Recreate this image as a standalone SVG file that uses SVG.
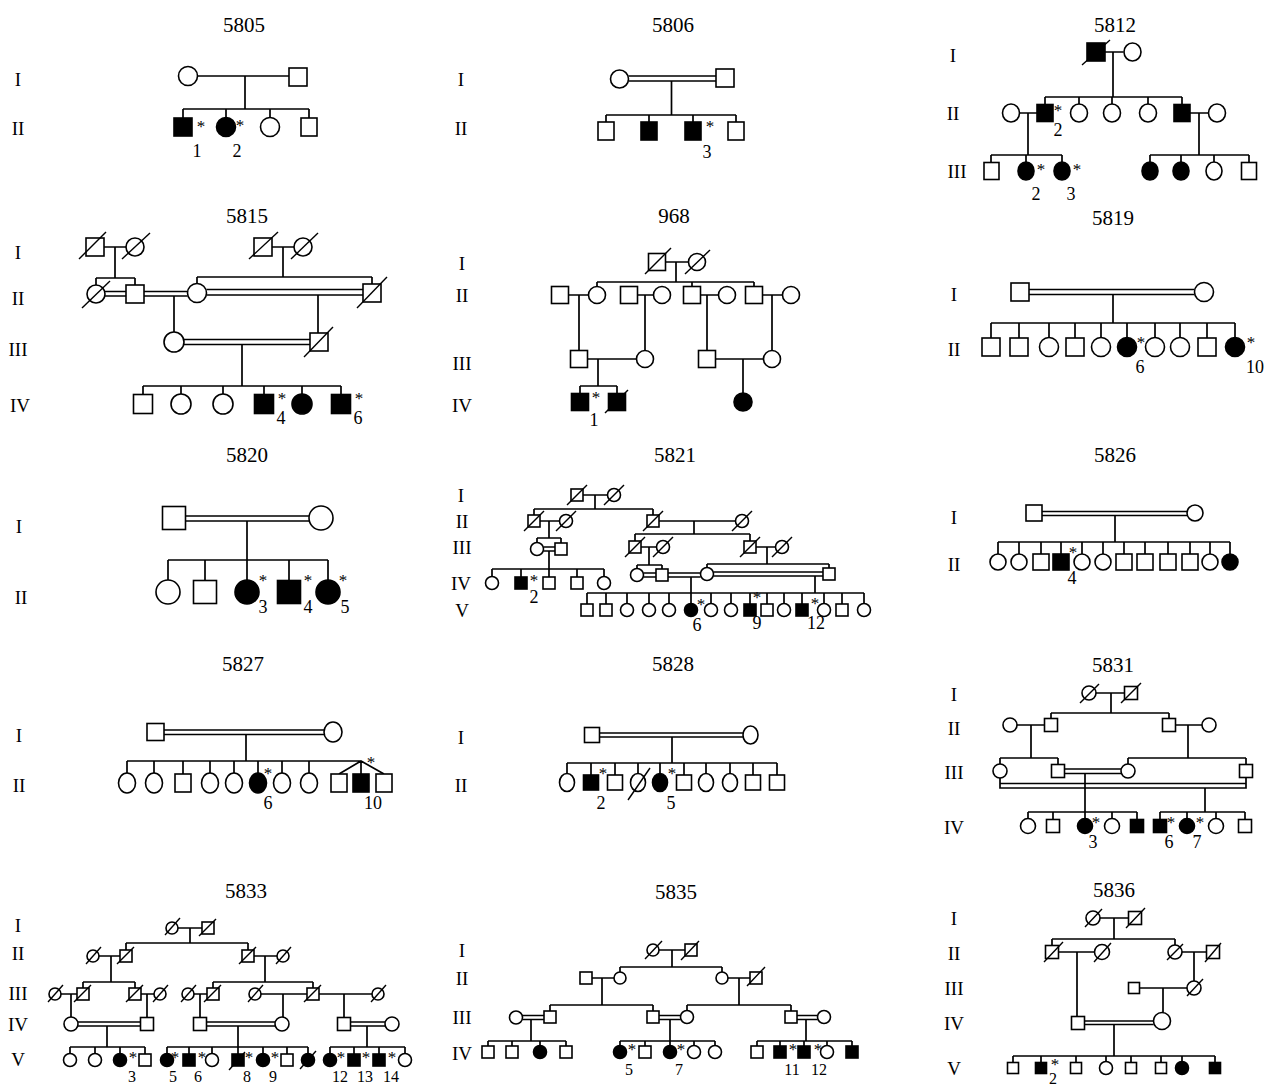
<svg xmlns="http://www.w3.org/2000/svg" width="1272" height="1085" viewBox="0 0 1272 1085">
<style>
.m{fill:#fff;stroke:#000;stroke-width:1.6}
.a{fill:#000}
.s{stroke:#000;stroke-width:1.4;fill:none}
.c{stroke:#000;stroke-width:1.7;fill:none}
text{font-family:"Liberation Serif","Times New Roman",serif;text-anchor:middle;dominant-baseline:central;fill:#000}
.h{font-size:21px}
.g{font-size:19px}
.n{font-size:18px}
.k{font-size:17px}
.sm{font-size:16px}
</style>
<rect width="1272" height="1085" fill="#fff"/>
<g id="connectors" class="c">
<path id="c5805" d="M197.5 76H289M245 76V109M183 109H309M183 109V118M226 109V118M270 109V118M309 109V118"/>
<path id="c5806" d="M628.5 76H716M628.5 81H716M671.5 81V115M606 115H736M606 115V122M649 115V122M693 115V122M736 115V122"/>
<path id="c5812" d="M1105 52H1123.5M1113 52V97M1045 97H1182M1045 97V104.5M1079 97V104.5M1112 97V104.5M1148 97V104.5M1182 97V104.5M1019.5 113H1037M1028 113V155M1190 113H1208.5M1199 113V155M991 155H1062M991 155V162.5M1026 155V162M1062 155V162M1150 155H1249M1150 155V162M1181 155V162M1214 155V162M1249 155V162.5"/>
<path id="c5815" d="M104 247H126M115 247V278M96 278H135M96 278V285M135 278V285M105 291.5H126M105 296H126M144 291.5H187.5M144 296H187.5M272 247H294M283 247V277M197 277H372M197 277V284M372 277V284M206.5 289.5H363M206.5 295H363M174 296V332M318 295V333M184 339.5H310M184 344.5H310M242 344.5V386M143 386H341M143 386V394.5M181 386V394M223 386V394M264 386V394.5M302 386V394M341 386V394.5"/>
<path id="c968" d="M665.5 262H688.5M676 262V282M597 282H754M597 282V286.5M692 282V286.5M754 282V286.5M568.5 295H588.5M637.5 295H653.5M700.5 295H718.5M762.5 295H782.5M579 295V350.5M645 295V350.5M707 295V350.5M772 295V350.5M587.5 359H636.5M715.5 359H763.5M598 359V386M580 386H617M580 386V393.5M617 386V393.5M743 359V393"/>
<path id="c5819" d="M1029 289.5H1194.5M1029 294.5H1194.5M1113 294.5V323M991 323H1235M991 323V338M1019 323V338M1049 323V337M1075 323V338M1101 323V337M1127 323V337M1155 323V337M1180 323V337M1207 323V338M1235 323V337"/>
<path id="c5820" d="M185.5 516H309M185.5 521H309M247 521V560M168 560H328M168 560V580M205 560V580.5M247 560V580M289 560V580.5M328 560V580"/>
<path id="c5821" d="M583 495H607.5M595 495V509M534 509H653M534 509V515M653 509V515M540 521H559.5M549 521V538M659 521H735.5M694 521V534M635 534H750M635 534V541M750 534V541M537 538H561M537 538V542.5M561 538V543M543.5 547H555M543.5 551H555M549 551V569M641 547H656.5M649 547V565M756 547H775.5M767 547V564M492 569H604M492 569V576.5M521 569V577M549 569V577M577 569V577M604 569V576.5M637 565H662M637 565V568.5M662 565V569M643.5 573H656M643.5 577H656M668 573H700.5M668 577H700.5M691 577V593M707 564H829M707 564V567.5M829 564V568M713.5 572H823M713.5 576H823M815 576V593M587 593H864M587 593V604M606 593V604M627 593V603.5M649 593V603.5M669 593V603.5M691 593V603.5M711 593V603.5M731 593V603.5M750 593V604M767 593V604M784 593V603.5M802 593V604M824 593V603.5M842 593V604M864 593V603.5"/>
<path id="c5826" d="M1042 511.5H1187M1042 515.5H1187M1115 515.5V542M998 542H1230M998 542V554M1019 542V554M1041 542V554M1061 542V554M1082 542V554M1103 542V554M1124 542V554M1145 542V554M1168 542V554M1190 542V554M1210 542V554M1230 542V554"/>
<path id="c5827" d="M163.5 730H324M163.5 734.5H324M246 734.5V761M127 761H361M127 761V773M154 761V773M183 761V774M210 761V773M234 761V773M258 761V773M282 761V773M309 761V773M339 774L361 761L384 774M361 761V774"/>
<path id="c5828" d="M599.5 733H743M599.5 737H743M672 737V763M567 763H777M567 763V773.5M591 763V775M615 763V775M638 763V773.5M660 763V773.5M684 763V775M706 763V773.5M730 763V773.5M753 763V775M777 763V775"/>
<path id="c5831" d="M1096 693H1124.5M1111 693V713M1051 713H1169M1051 713V718.5M1169 713V718.5M1017 725H1044.5M1175.5 725H1202M1031 725V758M1188 725V758M1000 758H1058M1000 758V764M1058 758V764.5M1128 758H1246M1128 758V764M1246 758V764.5M1064.5 769H1121M1064.5 773.5H1121M1085 773.5V812M1000 778V788H1246V777.5M1000 783.5H1246M1205 788V812M1028 812H1137M1028 812V818.5M1053 812V819.5M1085 812V818.5M1112 812V818.5M1137 812V819.5M1160 812H1245M1160 812V819.5M1187 812V818.5M1216 812V818.5M1245 812V819.5"/>
<path id="c5833" d="M178 928H202M190 928V943M126 943H248M126 943V950M248 943V950M99 956H120M111 956V982M254 956H277M265 956V982M83 982H135M83 982V988M135 982V988M61 994H77M71 994V1017M141 994H154M147 994V1017.5M213 982H313M213 982V988M313 982V988M194 994H207M200 994V1017.5M261 994H307M283 994V1017M319 994H372M344 994V1017.5M78 1022H140.5M78 1026H140.5M107 1026V1047M206.5 1022H275M206.5 1026H275M238 1026V1047M350.5 1022H385M350.5 1026H385M367 1026V1047M70 1047H145M70 1047V1053.5M95 1047V1053.5M120 1047V1053.5M145 1047V1054M167 1047H308M167 1047V1053.5M189 1047V1054M212 1047V1053.5M238 1047V1054M263 1047V1053.5M287 1047V1054M308 1047V1053.5M330 1047H405M330 1047V1053.5M354 1047V1054M379 1047V1054M405 1047V1053.5"/>
<path id="c5835" d="M659 950H685M672 950V967M620 967H722M620 967V972M722 967V972M592 978H614M602 978V1005M728 978H750M739 978V1005M550 1005H653M550 1005V1011M653 1005V1011M687 1005H791M687 1005V1010.5M791 1005V1011M522.5 1015.5H544M522.5 1019.5H544M531 1019.5V1041M659 1015.5H680.5M659 1019.5H680.5M670 1019.5V1041M797 1015.5H817.5M797 1019.5H817.5M806 1019.5V1041M488 1041H566M488 1041V1046M512 1041V1046M540 1041V1045.5M566 1041V1046M620 1041H715M620 1041V1045.5M645 1041V1046M670 1041V1045.5M694 1041V1045.5M715 1041V1045.5M757 1041H852M757 1041V1046M780 1041V1046M804 1041V1046M827 1041V1045.5M852 1041V1046"/>
<path id="c5836" d="M1100 918H1128.5M1114 918V939M1052 939H1175M1052 939V945.5M1175 939V945M1058.5 952H1094.5M1077 952V1016.5M1182 952H1206.5M1194 952V981M1139.5 988H1187M1163 988V1012.5M1084.5 1021H1153.5M1084.5 1024.5H1153.5M1114 1024.5V1056M1013 1056H1215M1013 1056V1062.5M1041 1056V1062.5M1076 1056V1062.5M1106 1056V1061.5M1131 1056V1062.5M1161 1056V1062.5M1182 1056V1061.5M1215 1056V1062.5"/>
</g>

<g id="p5805">
<text class="h" x="244" y="25">5805</text><text class="g" x="18" y="79">I</text><text class="g" x="18" y="128">II</text>
<g id="n5805-1-1"><circle class="m" cx="188" cy="76" r="9.5"/></g>
<g id="n5805-1-2"><rect class="m" x="289" y="68" width="18" height="18"/></g>
<g id="n5805-2-1"><rect class="m a" x="174" y="118" width="18" height="18"/><text class="k" x="201" y="126">*</text><text class="n" x="197" y="151">1</text></g>
<g id="n5805-2-2"><circle class="m a" cx="226" cy="127" r="9.5"/><text class="k" x="240" y="125">*</text><text class="n" x="237" y="151">2</text></g>
<g id="n5805-2-3"><circle class="m" cx="270" cy="127" r="9.5"/></g>
<g id="n5805-2-4"><rect class="m" x="301" y="118" width="16" height="18"/></g>
</g>

<g id="p5806">
<text class="h" x="673" y="25">5806</text><text class="g" x="461" y="79">I</text><text class="g" x="461" y="128">II</text>
<g id="n5806-1-1"><circle class="m" cx="619.5" cy="79" r="9"/></g>
<g id="n5806-1-2"><rect class="m" x="716" y="69" width="18" height="18"/></g>
<g id="n5806-2-1"><rect class="m" x="598" y="122" width="16" height="18"/></g>
<g id="n5806-2-2"><rect class="m a" x="641" y="122" width="16" height="18"/></g>
<g id="n5806-2-3"><rect class="m a" x="685" y="122" width="16" height="18"/><text class="k" x="710" y="126">*</text><text class="n" x="707" y="152">3</text></g>
<g id="n5806-2-4"><rect class="m" x="728" y="122" width="16" height="18"/></g>
</g>

<g id="p5812">
<text class="h" x="1115" y="25">5812</text><text class="g" x="953" y="55">I</text><text class="g" x="953" y="113">II</text><text class="g" x="957" y="171">III</text>
<g id="n5812-1-1"><rect class="m a" x="1087" y="43" width="18" height="18"/><line class="s" x1="1082" y1="65" x2="1110" y2="40"/></g>
<g id="n5812-1-2"><ellipse class="m" cx="1132.5" cy="52" rx="8.5" ry="9"/></g>
<g id="n5812-2-1"><ellipse class="m" cx="1011" cy="113" rx="8.5" ry="9"/></g>
<g id="n5812-2-2"><rect class="m a" x="1037" y="104.5" width="16" height="17"/><text class="k" x="1058" y="110">*</text><text class="n" x="1058" y="130">2</text></g>
<g id="n5812-2-3"><ellipse class="m" cx="1079" cy="113" rx="8.5" ry="9"/></g>
<g id="n5812-2-4"><ellipse class="m" cx="1112" cy="113" rx="8.5" ry="9"/></g>
<g id="n5812-2-5"><ellipse class="m" cx="1148" cy="113" rx="8.5" ry="9"/></g>
<g id="n5812-2-6"><rect class="m a" x="1174" y="104.5" width="16" height="17"/></g>
<g id="n5812-2-7"><ellipse class="m" cx="1217" cy="113" rx="8.5" ry="9"/></g>
<g id="n5812-3-1"><rect class="m" x="984" y="162.5" width="15" height="17"/></g>
<g id="n5812-3-2"><ellipse class="m a" cx="1026" cy="171" rx="8" ry="9"/><text class="k" x="1041" y="169">*</text><text class="n" x="1036" y="194">2</text></g>
<g id="n5812-3-3"><ellipse class="m a" cx="1062" cy="171" rx="8" ry="9"/><text class="k" x="1077" y="169">*</text><text class="n" x="1071" y="194">3</text></g>
<g id="n5812-3-4"><ellipse class="m a" cx="1150" cy="171" rx="8" ry="9"/></g>
<g id="n5812-3-5"><ellipse class="m a" cx="1181" cy="171" rx="8" ry="9"/></g>
<g id="n5812-3-6"><ellipse class="m" cx="1214" cy="171" rx="8" ry="9"/></g>
<g id="n5812-3-7"><rect class="m" x="1241.5" y="162.5" width="15" height="17"/></g>
</g>

<g id="p5815">
<text class="h" x="247" y="216">5815</text><text class="g" x="18" y="252">I</text><text class="g" x="18" y="298">II</text><text class="g" x="18" y="349">III</text><text class="g" x="20" y="405">IV</text>
<g id="n5815-1-1"><rect class="m" x="86" y="238" width="18" height="18"/><line class="s" x1="79" y1="259" x2="106" y2="232"/></g>
<g id="n5815-1-2"><circle class="m" cx="135" cy="247" r="9"/><line class="s" x1="122" y1="259" x2="150" y2="233"/></g>
<g id="n5815-1-3"><rect class="m" x="254" y="238" width="18" height="18"/><line class="s" x1="249" y1="259" x2="278" y2="232"/></g>
<g id="n5815-1-4"><circle class="m" cx="303" cy="247" r="9"/><line class="s" x1="291" y1="259" x2="318" y2="233"/></g>
<g id="n5815-2-1"><circle class="m" cx="96" cy="294" r="9"/><line class="s" x1="82" y1="308" x2="110" y2="281"/></g>
<g id="n5815-2-2"><rect class="m" x="126" y="285" width="18" height="18"/></g>
<g id="n5815-2-3"><circle class="m" cx="197" cy="293" r="9.5"/></g>
<g id="n5815-2-4"><rect class="m" x="363" y="284" width="18" height="18"/><line class="s" x1="357" y1="308" x2="387" y2="277"/></g>
<g id="n5815-3-1"><circle class="m" cx="174" cy="342" r="10"/></g>
<g id="n5815-3-2"><rect class="m" x="310" y="333" width="18" height="18"/><line class="s" x1="304" y1="357" x2="333" y2="327"/></g>
<g id="n5815-4-1"><rect class="m" x="133.5" y="394.5" width="19" height="19"/></g>
<g id="n5815-4-2"><circle class="m" cx="181" cy="404" r="10"/></g>
<g id="n5815-4-3"><circle class="m" cx="223" cy="404" r="10"/></g>
<g id="n5815-4-4"><rect class="m a" x="254.5" y="394.5" width="19" height="19"/><text class="k" x="282" y="398">*</text><text class="n" x="281" y="418">4</text></g>
<g id="n5815-4-5"><circle class="m a" cx="302" cy="404" r="10"/></g>
<g id="n5815-4-6"><rect class="m a" x="331.5" y="394.5" width="19" height="19"/><text class="k" x="359" y="398">*</text><text class="n" x="358" y="418">6</text></g>
</g>

<g id="p968">
<text class="h" x="674" y="216">968</text><text class="g" x="462" y="263">I</text><text class="g" x="462" y="295">II</text><text class="g" x="462" y="363">III</text><text class="g" x="462" y="405">IV</text>
<g id="n968-1-1"><rect class="m" x="648.5" y="253.5" width="17" height="17"/><line class="s" x1="645" y1="274" x2="671" y2="248"/></g>
<g id="n968-1-2"><circle class="m" cx="697" cy="262" r="8.5"/><line class="s" x1="685" y1="274" x2="710" y2="250"/></g>
<g id="n968-2-1"><rect class="m" x="551.5" y="286.5" width="17" height="17"/></g>
<g id="n968-2-2"><circle class="m" cx="597" cy="295" r="8.5"/></g>
<g id="n968-2-3"><rect class="m" x="620.5" y="286.5" width="17" height="17"/></g>
<g id="n968-2-4"><circle class="m" cx="662" cy="295" r="8.5"/></g>
<g id="n968-2-5"><rect class="m" x="683.5" y="286.5" width="17" height="17"/></g>
<g id="n968-2-6"><circle class="m" cx="727" cy="295" r="8.5"/></g>
<g id="n968-2-7"><rect class="m" x="745.5" y="286.5" width="17" height="17"/></g>
<g id="n968-2-8"><circle class="m" cx="791" cy="295" r="8.5"/></g>
<g id="n968-3-1"><rect class="m" x="570.5" y="350.5" width="17" height="17"/></g>
<g id="n968-3-2"><circle class="m" cx="645" cy="359" r="8.5"/></g>
<g id="n968-3-3"><rect class="m" x="698.5" y="350.5" width="17" height="17"/></g>
<g id="n968-3-4"><circle class="m" cx="772" cy="359" r="8.5"/></g>
<g id="n968-4-1"><rect class="m a" x="571.5" y="393.5" width="17" height="17"/><text class="k" x="596" y="397">*</text><text class="n" x="594" y="420">1</text></g>
<g id="n968-4-2"><rect class="m a" x="608.5" y="393.5" width="17" height="17"/><line class="s" x1="605" y1="413" x2="628" y2="390"/></g>
<g id="n968-4-3"><circle class="m a" cx="743" cy="402" r="9"/></g>
</g>

<g id="p5819">
<text class="h" x="1113" y="218">5819</text><text class="g" x="954" y="294">I</text><text class="g" x="954" y="349">II</text>
<g id="n5819-1-1"><rect class="m" x="1011" y="283" width="18" height="18"/></g>
<g id="n5819-1-2"><circle class="m" cx="1204" cy="292" r="9.5"/></g>
<g id="n5819-2-1"><rect class="m" x="982" y="338" width="18" height="18"/></g>
<g id="n5819-2-2"><rect class="m" x="1010" y="338" width="18" height="18"/></g>
<g id="n5819-2-3"><circle class="m" cx="1049" cy="347" r="9.5"/></g>
<g id="n5819-2-4"><rect class="m" x="1066" y="338" width="18" height="18"/></g>
<g id="n5819-2-5"><circle class="m" cx="1101" cy="347" r="9.5"/></g>
<g id="n5819-2-6"><circle class="m a" cx="1127" cy="347" r="9.5"/><text class="k" x="1141" y="342">*</text><text class="n" x="1140" y="367">6</text></g>
<g id="n5819-2-7"><circle class="m" cx="1155" cy="347" r="9.5"/></g>
<g id="n5819-2-8"><circle class="m" cx="1180" cy="347" r="9.5"/></g>
<g id="n5819-2-9"><rect class="m" x="1198" y="338" width="18" height="18"/></g>
<g id="n5819-2-10"><circle class="m a" cx="1235" cy="347" r="9.5"/><text class="k" x="1251" y="342">*</text><text class="n" x="1255" y="367">10</text></g>
</g>

<g id="p5820">
<text class="h" x="247" y="455">5820</text><text class="g" x="19" y="526">I</text><text class="g" x="21" y="597">II</text>
<g id="n5820-1-1"><rect class="m" x="162.5" y="506.5" width="23" height="23"/></g>
<g id="n5820-1-2"><circle class="m" cx="321" cy="518" r="12"/></g>
<g id="n5820-2-1"><circle class="m" cx="168" cy="592" r="12"/></g>
<g id="n5820-2-2"><rect class="m" x="193.5" y="580.5" width="23" height="23"/></g>
<g id="n5820-2-3"><circle class="m a" cx="247" cy="592" r="12"/><text class="k" x="263" y="580">*</text><text class="n" x="263" y="607">3</text></g>
<g id="n5820-2-4"><rect class="m a" x="277.5" y="580.5" width="23" height="23"/><text class="k" x="308" y="580">*</text><text class="n" x="308" y="607">4</text></g>
<g id="n5820-2-5"><circle class="m a" cx="328" cy="592" r="12"/><text class="k" x="343" y="580">*</text><text class="n" x="345" y="607">5</text></g>
</g>

<g id="p5821">
<text class="h" x="675" y="455">5821</text><text class="g" x="461" y="495">I</text><text class="g" x="462" y="521">II</text><text class="g" x="462" y="547">III</text><text class="g" x="461" y="583">IV</text><text class="g" x="462" y="610">V</text>
<g id="n5821-1-1"><rect class="m" x="571" y="489" width="12" height="12"/><line class="s" x1="567" y1="505" x2="587" y2="485"/></g>
<g id="n5821-1-2"><circle class="m" cx="614" cy="495" r="6.5"/><line class="s" x1="604" y1="505" x2="624" y2="485"/></g>
<g id="n5821-2-1"><rect class="m" x="528" y="515" width="12" height="12"/><line class="s" x1="524" y1="531" x2="544" y2="511"/></g>
<g id="n5821-2-2"><circle class="m" cx="566" cy="521" r="6.5"/><line class="s" x1="556" y1="531" x2="576" y2="511"/></g>
<g id="n5821-2-3"><rect class="m" x="647" y="515" width="12" height="12"/><line class="s" x1="643" y1="531" x2="663" y2="511"/></g>
<g id="n5821-2-4"><circle class="m" cx="742" cy="521" r="6.5"/><line class="s" x1="732" y1="531" x2="752" y2="511"/></g>
<g id="n5821-3-1"><circle class="m" cx="537" cy="549" r="6.5"/></g>
<g id="n5821-3-2"><rect class="m" x="555" y="543" width="12" height="12"/></g>
<g id="n5821-3-3"><rect class="m" x="629" y="541" width="12" height="12"/><line class="s" x1="625" y1="557" x2="645" y2="537"/></g>
<g id="n5821-3-4"><circle class="m" cx="663" cy="547" r="6.5"/><line class="s" x1="653" y1="557" x2="673" y2="537"/></g>
<g id="n5821-3-5"><rect class="m" x="744" y="541" width="12" height="12"/><line class="s" x1="740" y1="557" x2="760" y2="537"/></g>
<g id="n5821-3-6"><circle class="m" cx="782" cy="547" r="6.5"/><line class="s" x1="772" y1="557" x2="792" y2="537"/></g>
<g id="n5821-4-1"><circle class="m" cx="492" cy="583" r="6.5"/></g>
<g id="n5821-4-2"><rect class="m a" x="515" y="577" width="12" height="12"/><text class="k" x="534" y="580">*</text><text class="n" x="534" y="597">2</text></g>
<g id="n5821-4-3"><rect class="m" x="543" y="577" width="12" height="12"/></g>
<g id="n5821-4-4"><rect class="m" x="571" y="577" width="12" height="12"/></g>
<g id="n5821-4-5"><circle class="m" cx="604" cy="583" r="6.5"/></g>
<g id="n5821-4-6"><circle class="m" cx="637" cy="575" r="6.5"/></g>
<g id="n5821-4-7"><rect class="m" x="656" y="569" width="12" height="12"/></g>
<g id="n5821-4-8"><circle class="m" cx="707" cy="574" r="6.5"/></g>
<g id="n5821-4-9"><rect class="m" x="823" y="568" width="12" height="12"/></g>
<g id="n5821-5-1"><rect class="m" x="581" y="604" width="12" height="12"/></g>
<g id="n5821-5-2"><rect class="m" x="600" y="604" width="12" height="12"/></g>
<g id="n5821-5-3"><circle class="m" cx="627" cy="610" r="6.5"/></g>
<g id="n5821-5-4"><circle class="m" cx="649" cy="610" r="6.5"/></g>
<g id="n5821-5-5"><circle class="m" cx="669" cy="610" r="6.5"/></g>
<g id="n5821-5-6"><circle class="m a" cx="691" cy="610" r="6.5"/><text class="k" x="701" y="604">*</text><text class="n" x="697" y="625">6</text></g>
<g id="n5821-5-7"><circle class="m" cx="711" cy="610" r="6.5"/></g>
<g id="n5821-5-8"><circle class="m" cx="731" cy="610" r="6.5"/></g>
<g id="n5821-5-9"><rect class="m a" x="744" y="604" width="12" height="12"/><text class="k" x="757" y="597">*</text><text class="n" x="757" y="623">9</text></g>
<g id="n5821-5-10"><rect class="m" x="761" y="604" width="12" height="12"/></g>
<g id="n5821-5-11"><circle class="m" cx="784" cy="610" r="6.5"/></g>
<g id="n5821-5-12"><rect class="m a" x="796" y="604" width="12" height="12"/><text class="k" x="815" y="603">*</text><text class="n" x="816" y="623">12</text></g>
<g id="n5821-5-13"><circle class="m" cx="824" cy="610" r="6.5"/></g>
<g id="n5821-5-14"><rect class="m" x="836" y="604" width="12" height="12"/></g>
<g id="n5821-5-15"><circle class="m" cx="864" cy="610" r="6.5"/></g>
</g>

<g id="p5826">
<text class="h" x="1115" y="455">5826</text><text class="g" x="954" y="517">I</text><text class="g" x="954" y="564">II</text>
<g id="n5826-1-1"><rect class="m" x="1026" y="505" width="16" height="16"/></g>
<g id="n5826-1-2"><circle class="m" cx="1195" cy="513" r="8"/></g>
<g id="n5826-2-1"><circle class="m" cx="998" cy="562" r="8"/></g>
<g id="n5826-2-2"><circle class="m" cx="1019" cy="562" r="8"/></g>
<g id="n5826-2-3"><rect class="m" x="1033" y="554" width="16" height="16"/></g>
<g id="n5826-2-4"><rect class="m a" x="1053" y="554" width="16" height="16"/><text class="k" x="1073" y="552">*</text><text class="n" x="1072" y="578">4</text></g>
<g id="n5826-2-5"><circle class="m" cx="1082" cy="562" r="8"/></g>
<g id="n5826-2-6"><circle class="m" cx="1103" cy="562" r="8"/></g>
<g id="n5826-2-7"><rect class="m" x="1116" y="554" width="16" height="16"/></g>
<g id="n5826-2-8"><rect class="m" x="1137" y="554" width="16" height="16"/></g>
<g id="n5826-2-9"><rect class="m" x="1160" y="554" width="16" height="16"/></g>
<g id="n5826-2-10"><rect class="m" x="1182" y="554" width="16" height="16"/></g>
<g id="n5826-2-11"><circle class="m" cx="1210" cy="562" r="8"/></g>
<g id="n5826-2-12"><circle class="m a" cx="1230" cy="562" r="8"/></g>
</g>

<g id="p5827">
<text class="h" x="243" y="664">5827</text><text class="g" x="19" y="735">I</text><text class="g" x="19" y="785">II</text>
<g id="n5827-1-1"><rect class="m" x="147" y="723.5" width="17" height="17"/></g>
<g id="n5827-1-2"><ellipse class="m" cx="333" cy="732" rx="9" ry="10"/></g>
<g id="n5827-2-1"><ellipse class="m" cx="127" cy="783" rx="8.5" ry="10"/></g>
<g id="n5827-2-2"><ellipse class="m" cx="154" cy="783" rx="8.5" ry="10"/></g>
<g id="n5827-2-3"><rect class="m" x="175" y="774" width="16" height="18"/></g>
<g id="n5827-2-4"><ellipse class="m" cx="210" cy="783" rx="8.5" ry="10"/></g>
<g id="n5827-2-5"><ellipse class="m" cx="234" cy="783" rx="8.5" ry="10"/></g>
<g id="n5827-2-6"><ellipse class="m a" cx="258" cy="783" rx="8.5" ry="10"/><text class="k" x="268" y="773">*</text><text class="n" x="268" y="803">6</text></g>
<g id="n5827-2-7"><ellipse class="m" cx="282" cy="783" rx="8.5" ry="10"/></g>
<g id="n5827-2-8"><ellipse class="m" cx="309" cy="783" rx="8.5" ry="10"/></g>
<g id="n5827-2-9"><rect class="m" x="331" y="774" width="16" height="18"/></g>
<g id="n5827-2-10"><rect class="m a" x="353" y="774" width="16" height="18"/><text class="k" x="371" y="762">*</text><text class="n" x="373" y="803">10</text></g>
<g id="n5827-2-11"><rect class="m" x="376" y="774" width="16" height="18"/></g>
</g>

<g id="p5828">
<text class="h" x="673" y="664">5828</text><text class="g" x="461" y="737">I</text><text class="g" x="461" y="785">II</text>
<g id="n5828-1-1"><rect class="m" x="584.5" y="727.5" width="15" height="15"/></g>
<g id="n5828-1-2"><ellipse class="m" cx="750.5" cy="735" rx="7.5" ry="9"/></g>
<g id="n5828-2-1"><ellipse class="m" cx="567" cy="782.5" rx="7.5" ry="9"/></g>
<g id="n5828-2-2"><rect class="m a" x="583.5" y="775" width="15" height="15"/><text class="k" x="603" y="773">*</text><text class="n" x="601" y="803">2</text></g>
<g id="n5828-2-3"><rect class="m" x="607.5" y="775" width="15" height="15"/></g>
<g id="n5828-2-4"><ellipse class="m" cx="638" cy="782.5" rx="7.5" ry="9"/><line class="s" x1="628" y1="800" x2="650" y2="768"/></g>
<g id="n5828-2-5"><ellipse class="m a" cx="660" cy="782.5" rx="7.5" ry="9"/><text class="k" x="672" y="773">*</text><text class="n" x="671" y="803">5</text></g>
<g id="n5828-2-6"><rect class="m" x="676.5" y="775" width="15" height="15"/></g>
<g id="n5828-2-7"><ellipse class="m" cx="706" cy="782.5" rx="7.5" ry="9"/></g>
<g id="n5828-2-8"><ellipse class="m" cx="730" cy="782.5" rx="7.5" ry="9"/></g>
<g id="n5828-2-9"><rect class="m" x="745.5" y="775" width="15" height="15"/></g>
<g id="n5828-2-10"><rect class="m" x="769.5" y="775" width="15" height="15"/></g>
</g>

<g id="p5831">
<text class="h" x="1113" y="665">5831</text><text class="g" x="954" y="694">I</text><text class="g" x="954" y="728">II</text><text class="g" x="954" y="772">III</text><text class="g" x="954" y="827">IV</text>
<g id="n5831-1-1"><circle class="m" cx="1089" cy="693" r="7"/><line class="s" x1="1080" y1="703" x2="1099" y2="684"/></g>
<g id="n5831-1-2"><rect class="m" x="1124.5" y="686.5" width="13" height="13"/><line class="s" x1="1121" y1="703" x2="1141" y2="683"/></g>
<g id="n5831-2-1"><circle class="m" cx="1010" cy="725" r="7"/></g>
<g id="n5831-2-2"><rect class="m" x="1044.5" y="718.5" width="13" height="13"/></g>
<g id="n5831-2-3"><rect class="m" x="1162.5" y="718.5" width="13" height="13"/></g>
<g id="n5831-2-4"><circle class="m" cx="1209" cy="725" r="7"/></g>
<g id="n5831-3-1"><circle class="m" cx="1000" cy="771" r="7"/></g>
<g id="n5831-3-2"><rect class="m" x="1051.5" y="764.5" width="13" height="13"/></g>
<g id="n5831-3-3"><circle class="m" cx="1128" cy="771" r="7"/></g>
<g id="n5831-3-4"><rect class="m" x="1239.5" y="764.5" width="13" height="13"/></g>
<g id="n5831-4-1"><circle class="m" cx="1028" cy="826" r="7.5"/></g>
<g id="n5831-4-2"><rect class="m" x="1046.5" y="819.5" width="13" height="13"/></g>
<g id="n5831-4-3"><circle class="m a" cx="1085" cy="826" r="7.5"/><text class="k" x="1096" y="822">*</text><text class="n" x="1093" y="842">3</text></g>
<g id="n5831-4-4"><circle class="m" cx="1112" cy="826" r="7.5"/></g>
<g id="n5831-4-5"><rect class="m a" x="1130.5" y="819.5" width="13" height="13"/></g>
<g id="n5831-4-6"><rect class="m a" x="1153.5" y="819.5" width="13" height="13"/><text class="k" x="1171" y="822">*</text><text class="n" x="1169" y="842">6</text></g>
<g id="n5831-4-7"><circle class="m a" cx="1187" cy="826" r="7.5"/><text class="k" x="1200" y="822">*</text><text class="n" x="1197" y="842">7</text></g>
<g id="n5831-4-8"><circle class="m" cx="1216" cy="826" r="7.5"/></g>
<g id="n5831-4-9"><rect class="m" x="1238.5" y="819.5" width="13" height="13"/></g>
</g>

<g id="p5833">
<text class="h" x="246" y="891">5833</text><text class="g" x="18" y="925">I</text><text class="g" x="18" y="953">II</text><text class="g" x="18" y="993">III</text><text class="g" x="18" y="1024">IV</text><text class="g" x="18" y="1059">V</text>
<g id="n5833-1-1"><circle class="m" cx="172" cy="928" r="6"/><line class="s" x1="165" y1="935" x2="180" y2="918"/></g>
<g id="n5833-1-2"><rect class="m" x="202" y="922" width="12" height="12"/><line class="s" x1="199" y1="936" x2="216" y2="919"/></g>
<g id="n5833-2-1"><circle class="m" cx="93" cy="956" r="6"/><line class="s" x1="86" y1="964" x2="101" y2="947"/></g>
<g id="n5833-2-2"><rect class="m" x="120" y="950" width="12" height="12"/><line class="s" x1="117" y1="964" x2="134" y2="947"/></g>
<g id="n5833-2-3"><rect class="m" x="242" y="950" width="12" height="12"/><line class="s" x1="239" y1="964" x2="256" y2="947"/></g>
<g id="n5833-2-4"><circle class="m" cx="283" cy="956" r="6"/><line class="s" x1="276" y1="964" x2="291" y2="947"/></g>
<g id="n5833-3-1"><circle class="m" cx="55" cy="994" r="6"/><line class="s" x1="48" y1="1002" x2="63" y2="985"/></g>
<g id="n5833-3-2"><rect class="m" x="77" y="988" width="12" height="12"/><line class="s" x1="74" y1="1002" x2="91" y2="985"/></g>
<g id="n5833-3-3"><rect class="m" x="129" y="988" width="12" height="12"/><line class="s" x1="126" y1="1002" x2="143" y2="985"/></g>
<g id="n5833-3-4"><circle class="m" cx="160" cy="994" r="6"/><line class="s" x1="153" y1="1002" x2="168" y2="985"/></g>
<g id="n5833-3-5"><circle class="m" cx="188" cy="994" r="6"/><line class="s" x1="181" y1="1002" x2="196" y2="985"/></g>
<g id="n5833-3-6"><rect class="m" x="207" y="988" width="12" height="12"/><line class="s" x1="204" y1="1002" x2="221" y2="985"/></g>
<g id="n5833-3-7"><circle class="m" cx="255" cy="994" r="6"/><line class="s" x1="248" y1="1002" x2="263" y2="985"/></g>
<g id="n5833-3-8"><rect class="m" x="307" y="988" width="12" height="12"/><line class="s" x1="304" y1="1002" x2="321" y2="985"/></g>
<g id="n5833-3-9"><circle class="m" cx="378" cy="994" r="6"/><line class="s" x1="371" y1="1002" x2="386" y2="985"/></g>
<g id="n5833-4-1"><circle class="m" cx="71" cy="1024" r="7"/></g>
<g id="n5833-4-2"><rect class="m" x="140.5" y="1017.5" width="13" height="13"/></g>
<g id="n5833-4-3"><rect class="m" x="193.5" y="1017.5" width="13" height="13"/></g>
<g id="n5833-4-4"><circle class="m" cx="282" cy="1024" r="7"/></g>
<g id="n5833-4-5"><rect class="m" x="337.5" y="1017.5" width="13" height="13"/></g>
<g id="n5833-4-6"><circle class="m" cx="392" cy="1024" r="7"/></g>
<g id="n5833-5-1"><circle class="m" cx="70" cy="1060" r="6.5"/></g>
<g id="n5833-5-2"><circle class="m" cx="95" cy="1060" r="6.5"/></g>
<g id="n5833-5-3"><circle class="m a" cx="120" cy="1060" r="6.5"/><text class="k" x="133" y="1057">*</text><text class="sm" x="132" y="1076">3</text></g>
<g id="n5833-5-4"><rect class="m" x="139" y="1054" width="12" height="12"/></g>
<g id="n5833-5-5"><circle class="m a" cx="167" cy="1060" r="6.5"/><text class="k" x="175" y="1057">*</text><text class="sm" x="173" y="1076">5</text></g>
<g id="n5833-5-6"><rect class="m a" x="183" y="1054" width="12" height="12"/><text class="k" x="202" y="1057">*</text><text class="sm" x="198" y="1076">6</text></g>
<g id="n5833-5-7"><circle class="m" cx="212" cy="1060" r="6.5"/></g>
<g id="n5833-5-8"><rect class="m a" x="232" y="1054" width="12" height="12"/><line class="s" x1="229" y1="1070" x2="245" y2="1052"/><text class="k" x="249" y="1057">*</text><text class="sm" x="247" y="1076">8</text></g>
<g id="n5833-5-9"><circle class="m a" cx="263" cy="1060" r="6.5"/><text class="k" x="275" y="1057">*</text><text class="sm" x="273" y="1076">9</text></g>
<g id="n5833-5-10"><rect class="m" x="281" y="1054" width="12" height="12"/></g>
<g id="n5833-5-11"><circle class="m a" cx="308" cy="1060" r="6.5"/><line class="s" x1="300" y1="1069" x2="316" y2="1051"/></g>
<g id="n5833-5-12"><circle class="m a" cx="330" cy="1060" r="6.5"/><text class="k" x="341" y="1057">*</text><text class="sm" x="340" y="1076">12</text></g>
<g id="n5833-5-13"><rect class="m a" x="348" y="1054" width="12" height="12"/><text class="k" x="366" y="1057">*</text><text class="sm" x="365" y="1076">13</text></g>
<g id="n5833-5-14"><rect class="m a" x="373" y="1054" width="12" height="12"/><text class="k" x="392" y="1057">*</text><text class="sm" x="391" y="1076">14</text></g>
<g id="n5833-5-15"><circle class="m" cx="405" cy="1060" r="6.5"/></g>
</g>

<g id="p5835">
<text class="h" x="676" y="892">5835</text><text class="g" x="462" y="950">I</text><text class="g" x="462" y="978">II</text><text class="g" x="462" y="1017">III</text><text class="g" x="462" y="1053">IV</text>
<g id="n5835-1-1"><circle class="m" cx="653" cy="950" r="6"/><line class="s" x1="645" y1="959" x2="662" y2="941"/></g>
<g id="n5835-1-2"><rect class="m" x="685" y="944" width="12" height="12"/><line class="s" x1="681" y1="960" x2="699" y2="941"/></g>
<g id="n5835-2-1"><rect class="m" x="580" y="972" width="12" height="12"/></g>
<g id="n5835-2-2"><circle class="m" cx="620" cy="978" r="6"/></g>
<g id="n5835-2-3"><circle class="m" cx="722" cy="978" r="6"/></g>
<g id="n5835-2-4"><rect class="m" x="750" y="972" width="12" height="12"/><line class="s" x1="747" y1="986" x2="765" y2="967"/></g>
<g id="n5835-3-1"><circle class="m" cx="516" cy="1017.5" r="6.5"/></g>
<g id="n5835-3-2"><rect class="m" x="544" y="1011" width="12" height="12"/></g>
<g id="n5835-3-3"><rect class="m" x="647" y="1011" width="12" height="12"/></g>
<g id="n5835-3-4"><circle class="m" cx="687" cy="1017" r="6.5"/></g>
<g id="n5835-3-5"><rect class="m" x="785" y="1011" width="12" height="12"/></g>
<g id="n5835-3-6"><circle class="m" cx="824" cy="1017" r="6.5"/></g>
<g id="n5835-4-1"><rect class="m" x="482" y="1046" width="12" height="12"/></g>
<g id="n5835-4-2"><rect class="m" x="506" y="1046" width="12" height="12"/></g>
<g id="n5835-4-3"><circle class="m a" cx="540" cy="1052" r="6.5"/></g>
<g id="n5835-4-4"><rect class="m" x="560" y="1046" width="12" height="12"/></g>
<g id="n5835-4-5"><circle class="m a" cx="620" cy="1052" r="6.5"/><text class="k" x="632" y="1049">*</text><text class="sm" x="629" y="1069">5</text></g>
<g id="n5835-4-6"><rect class="m" x="639" y="1046" width="12" height="12"/></g>
<g id="n5835-4-7"><circle class="m a" cx="670" cy="1052" r="6.5"/><text class="k" x="681" y="1049">*</text><text class="sm" x="679" y="1069">7</text></g>
<g id="n5835-4-8"><circle class="m" cx="694" cy="1052" r="6.5"/></g>
<g id="n5835-4-9"><circle class="m" cx="715" cy="1052" r="6.5"/></g>
<g id="n5835-4-10"><rect class="m" x="751" y="1046" width="12" height="12"/></g>
<g id="n5835-4-11"><rect class="m a" x="774" y="1046" width="12" height="12"/><text class="k" x="793" y="1049">*</text><text class="sm" x="792" y="1069">11</text></g>
<g id="n5835-4-12"><rect class="m a" x="798" y="1046" width="12" height="12"/><text class="k" x="818" y="1049">*</text><text class="sm" x="819" y="1069">12</text></g>
<g id="n5835-4-13"><circle class="m" cx="827" cy="1052" r="6.5"/></g>
<g id="n5835-4-14"><rect class="m a" x="846" y="1046" width="12" height="12"/></g>
</g>

<g id="p5836">
<text class="h" x="1114" y="890">5836</text><text class="g" x="954" y="918">I</text><text class="g" x="954" y="953">II</text><text class="g" x="954" y="988">III</text><text class="g" x="954" y="1023">IV</text><text class="g" x="954" y="1068">V</text>
<g id="n5836-1-1"><circle class="m" cx="1093" cy="918" r="7"/><line class="s" x1="1085" y1="927" x2="1102" y2="909"/></g>
<g id="n5836-1-2"><rect class="m" x="1128.5" y="911.5" width="13" height="13"/><line class="s" x1="1126" y1="928" x2="1145" y2="908"/></g>
<g id="n5836-2-1"><rect class="m" x="1045.5" y="945.5" width="13" height="13"/><line class="s" x1="1044" y1="962" x2="1063" y2="942"/></g>
<g id="n5836-2-2"><circle class="m" cx="1102" cy="952" r="7.5"/><line class="s" x1="1094" y1="962" x2="1111" y2="943"/></g>
<g id="n5836-2-3"><circle class="m" cx="1175" cy="952" r="7"/><line class="s" x1="1167" y1="960" x2="1183" y2="944"/></g>
<g id="n5836-2-4"><rect class="m" x="1206.5" y="945.5" width="13" height="13"/><line class="s" x1="1205" y1="962" x2="1221" y2="943"/></g>
<g id="n5836-3-1"><rect class="m" x="1128.5" y="982.5" width="11" height="11"/></g>
<g id="n5836-3-2"><circle class="m" cx="1194" cy="988" r="7"/><line class="s" x1="1187" y1="996" x2="1203" y2="979"/></g>
<g id="n5836-4-1"><rect class="m" x="1071.5" y="1016.5" width="13" height="13"/></g>
<g id="n5836-4-2"><circle class="m" cx="1162" cy="1021" r="8.5"/></g>
<g id="n5836-5-1"><rect class="m" x="1007.5" y="1062.5" width="11" height="11"/></g>
<g id="n5836-5-2"><rect class="m a" x="1035.5" y="1062.5" width="11" height="11"/><text class="k" x="1055" y="1064">*</text><text class="sm" x="1053" y="1078">2</text></g>
<g id="n5836-5-3"><rect class="m" x="1070.5" y="1062.5" width="11" height="11"/></g>
<g id="n5836-5-4"><circle class="m" cx="1106" cy="1068" r="6.5"/></g>
<g id="n5836-5-5"><rect class="m" x="1125.5" y="1062.5" width="11" height="11"/></g>
<g id="n5836-5-6"><rect class="m" x="1155.5" y="1062.5" width="11" height="11"/></g>
<g id="n5836-5-7"><circle class="m a" cx="1182" cy="1068" r="6.5"/></g>
<g id="n5836-5-8"><rect class="m a" x="1209.5" y="1062.5" width="11" height="11"/></g>
</g>
</svg>
